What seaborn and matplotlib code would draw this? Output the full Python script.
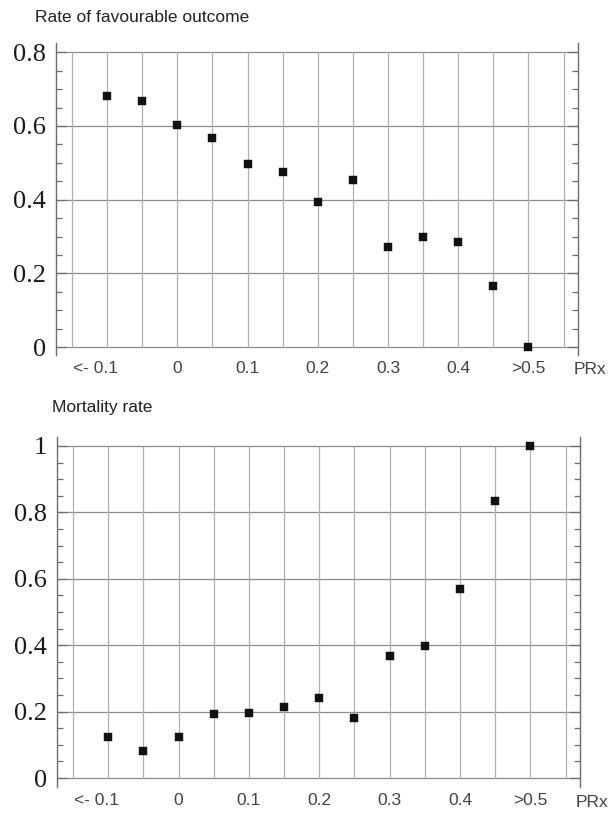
import numpy as np
import pandas as pd
import matplotlib
matplotlib.use("Agg")
import matplotlib.pyplot as plt
import matplotlib.transforms as mtransforms
from matplotlib.ticker import MultipleLocator
import seaborn as sns

# ---- data ----
prx_bins = ["<-0.1", "-0.05", "0", "0.05", "0.1", "0.15", "0.2",
            "0.25", "0.3", "0.35", "0.4", "0.45", ">0.5"]
favourable_rate = [0.681, 0.668, 0.603, 0.568, 0.496, 0.475, 0.394,
                   0.454, 0.273, 0.299, 0.285, 0.166, 0.0]
mortality_rate = [0.125, 0.080, 0.125, 0.194, 0.197, 0.213, 0.241,
                  0.181, 0.366, 0.398, 0.570, 0.833, 1.0]
x_tick_labels = ["<- 0.1", "0", "0.1", "0.2", "0.3", "0.4", ">0.5"]
x_tick_bins = ["<-0.1", "0", "0.1", "0.2", "0.3", "0.4", ">0.5"]
titles = ["Rate of favourable outcome", "Mortality rate"]
x_axis_label = "PRx"

sns.set_style("white")
plt.rcParams["font.family"] = ["Liberation Sans", "DejaVu Sans"]

W, H = 608, 813
fig = plt.figure(figsize=(W / 100, H / 100), dpi=100)

def px_axes(l, t, r, b):
    return fig.add_axes([l / W, 1 - b / H, (r - l) / W, (b - t) / H])

pos_of = {b: i + 1 for i, b in enumerate(prx_bins)}
n_grid = len(prx_bins) + 2

panels = [
    dict(box=(56, 43, 578, 355), ylim=(-0.021, 0.825), ymax=0.8,
         values=favourable_rate, title=titles[0], title_xy=(35, 17)),
    dict(box=(57, 437, 580, 787), ylim=(-0.027, 1.027), ymax=1.0,
         values=mortality_rate, title=titles[1], title_xy=(52, 407)),
]

for p in panels:
    ax = px_axes(*p["box"])
    df = pd.DataFrame({"pos": [pos_of[b] for b in prx_bins], "rate": p["values"]})
    # vertical grid
    ax.vlines(np.arange(n_grid), 0, p["ymax"], color="#b0b0b0", lw=0.9, zorder=1)
    sns.scatterplot(data=df, x="pos", y="rate", marker="s", s=30, color="#111111",
                    edgecolor="#111111", linewidth=0.3, ax=ax, zorder=3, legend=False)
    ax.set_xlim(-0.456, 14.41)
    ax.set_ylim(*p["ylim"])
    ax.yaxis.set_major_locator(MultipleLocator(0.2))
    ax.yaxis.set_minor_locator(MultipleLocator(0.05))
    ax.grid(True, axis="y", which="major", color="#8c8c8c", lw=0.9, zorder=1)
    ax.set_axisbelow(True)
    for s in ["top", "bottom"]:
        ax.spines[s].set_visible(False)
    for s in ["left", "right"]:
        ax.spines[s].set_color("#6e6e6e")
        ax.spines[s].set_linewidth(1.0)
    ax.tick_params(axis="y", which="both", direction="in", left=True, right=True,
                   color="#6e6e6e", width=0.9)
    ax.tick_params(axis="y", which="major", length=7, pad=7)
    ax.tick_params(axis="y", which="minor", length=4)
    ylabels = []
    for v in np.arange(0, p["ymax"] + 1e-9, 0.2):
        ylabels.append("0" if abs(v) < 1e-9 else ("1" if abs(v - 1) < 1e-9 else f"{v:.1f}"))
    ax.set_yticks(np.arange(0, p["ymax"] + 1e-9, 0.2))
    ax.set_yticklabels(ylabels, fontfamily="Liberation Serif", fontsize=19, color="#1a1a1a")
    xt = [pos_of[b] for b in x_tick_bins]
    xt[0] = xt[0] - 0.34
    ax.set_xticks(xt)
    ax.set_xticklabels(x_tick_labels, fontsize=12.5, color="#444444")
    ax.tick_params(axis="x", length=0, pad=4)
    ax.set_xlabel("")
    ax.set_ylabel("")
    trans = mtransforms.blended_transform_factory(ax.transData, ax.transAxes)
    ax.text(14.76, -0.022, x_axis_label, transform=trans, ha="center", va="top",
            fontsize=12.5, color="#444444", clip_on=False)
    fig.text(p["title_xy"][0] / W, 1 - p["title_xy"][1] / H, p["title"],
             ha="left", va="center", fontsize=12.5, color="#222222")

fig.savefig("out.png", dpi=100)
